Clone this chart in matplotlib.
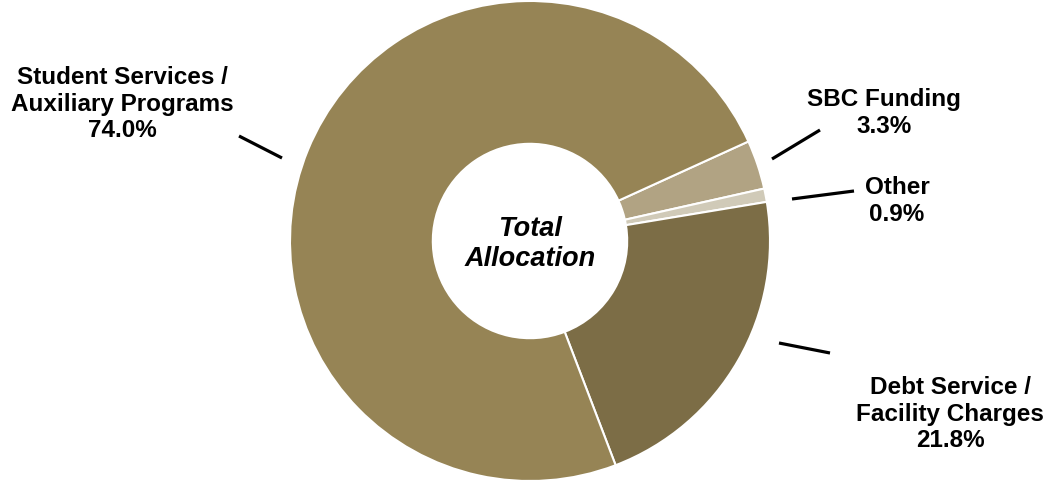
import matplotlib.pyplot as plt

plt.rcParams['font.family'] = ['Liberation Sans', 'DejaVu Sans']

labels = ['SBC Funding', 'Other', 'Debt Service /\nFacility Charges', 'Student Services /\nAuxiliary Programs']
values = [3.3, 0.9, 21.8, 74.0]
colors = ['#b1a383', '#d0cab8', '#7c6d46', '#968455']

fig = plt.figure(figsize=(10.5, 4.82), dpi=100)
ax = fig.add_axes([0, 0, 1, 1])

# work in pixel units, y measured upward
cx, cy, r = 530, 241, 240
ax.pie(values, colors=colors, startangle=24.5, counterclock=False,
       center=(cx, cy), radius=r,
       wedgeprops=dict(width=r * 0.595, edgecolor='white', linewidth=1.5))
ax.set_xlim(0, 1050)
ax.set_ylim(0, 482)
ax.set_aspect('equal')
ax.axis('off')

H = 482
# label positions and leader lines (pixel coords, top-origin)
label_pos = [(884, 113), (897, 201), (950, 414), (122, 104)]
leaders = [((772, 159), (820, 130)),
           ((792, 199), (854, 191)),
           ((779, 343), (830, 353)),
           ((239, 136), (282, 158))]

for lab, val, (lx, ly), (p1, p2) in zip(labels, values, label_pos, leaders):
    ax.text(lx, H - ly, f'{lab}\n{val:.1f}%', ha='center', va='center',
            fontsize=17.5, fontweight='bold', linespacing=1.2)
    ax.plot([p1[0], p2[0]], [H - p1[1], H - p2[1]], color='black', lw=2.3,
            solid_capstyle='butt')

ax.text(cx, H - 244, 'Total\nAllocation', ha='center', va='center',
        fontsize=19.5, fontweight='bold', fontstyle='italic', linespacing=1.2)

fig.savefig('out.png', dpi=100)
